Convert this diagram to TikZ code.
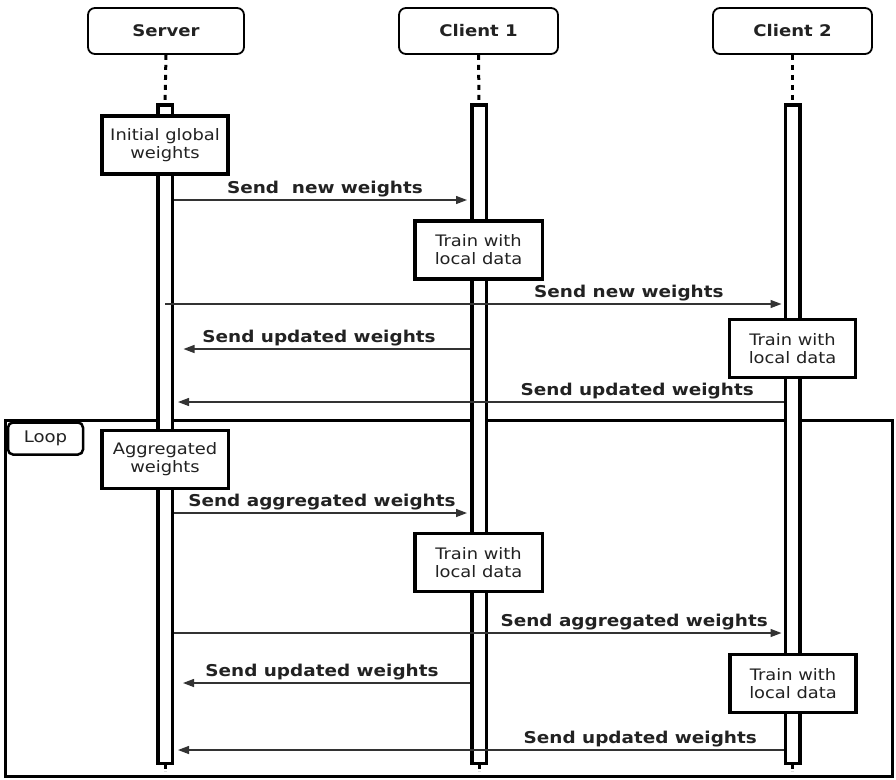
\documentclass[tikz,border=0pt]{standalone}
\usepackage{fontspec}
\setmainfont{DejaVu Sans}
\usepackage{graphicx}
\usetikzlibrary{arrows.meta}
\definecolor{ink}{HTML}{222222}
\definecolor{wire}{HTML}{333333}
% slightly widened lettering
\newcommand\sx[1]{\scalebox{1.13}[1]{#1}}

\begin{document}
\begin{tikzpicture}[x=1pt,y=-1pt,
  head/.style={draw=black, line width=1.8pt, rounded corners=7pt, fill=white,
    minimum height=46pt, inner sep=0pt, text=ink,
    font=\fontsize{16}{19}\selectfont\bfseries},
  life/.style={draw=black, line width=3pt, dash pattern=on 5pt off 5pt},
  bar/.style={draw=black, line width=3.5pt, fill=white, minimum width=14.5pt,
    minimum height=658.5pt, inner sep=0pt},
  act/.style={draw=black, line width=3.5pt, fill=white, minimum width=126pt,
    minimum height=58pt, inner sep=0pt, align=center, text=ink,
    font=\fontsize{15.8}{18}\selectfont},
  frame/.style={draw=black, line width=3pt, minimum width=887pt,
    minimum height=356.5pt, inner sep=0pt},
  tab/.style={draw=black, line width=2.5pt, rounded corners=5pt, fill=white,
    minimum width=75pt, minimum height=32pt, inner sep=0pt, text=ink,
    font=\fontsize{16}{19}\selectfont},
  msg/.style={draw=wire, line width=1.3pt, -{Triangle[length=11pt,width=8pt]}},
  lbl/.style={anchor=base, yshift=7pt, inner sep=0pt, text=ink,
    font=\fontsize{16.3}{19}\selectfont\bfseries},
]
\useasboundingbox (0,0) rectangle (896,779);

% loop frame and its tab
\node[frame] (loop) at (449,598.25) {};
\node[tab] (looptab) at (45.5,438.5) {\sx{Loop}};

% participants
\node[head, minimum width=156pt] (server) at (166,31) {\sx{Server}};
\node[head, minimum width=159pt] (client1) at (478.5,31) {\sx{Client 1}};
\node[head, minimum width=159pt] (client2) at (792.5,31) {\sx{Client 2}};

% activation bars
\node[bar] (sbar) at (165,434) {};
\node[bar] (cbar1) at (479,434) {};
\node[bar] (cbar2) at (792.5,434) {};

% lifelines
\draw[life] (server.south) -- (sbar.north);
\draw[life] (client1.south) -- (cbar1.north);
\draw[life] (client2.south) -- (cbar2.north);
\coordinate (send) at (165,771);
\coordinate (c1end) at (479,771);
\coordinate (c2end) at (792.5,771);
\draw[life, dash pattern=on 4pt off 2pt] (sbar.south) -- (send);
\draw[life, dash pattern=on 4pt off 2pt] (cbar1.south) -- (c1end);
\draw[life, dash pattern=on 4pt off 2pt] (cbar2.south) -- (c2end);

% processing steps
\node[act] (init) at (165,145) {\sx{Initial global}\\\sx{weights}};
\node[act, minimum width=127.5pt] (train1) at (478.5,250) {\sx{Train with}\\\sx{local data}};
\node[act] (train2) at (792.5,348.5) {\sx{Train with}\\\sx{local data}};
\node[act, minimum width=126.5pt] (agg) at (165,459.5) {\sx{Aggregated}\\\sx{weights}};
\node[act, minimum width=127.5pt] (train3) at (478.5,562.5) {\sx{Train with}\\\sx{local data}};
\node[act] (train4) at (793,683.5) {\sx{Train with}\\\sx{local data}};

% message levels
\coordinate (m1) at (0,200);
\coordinate (m2) at (0,304);
\coordinate (m3) at (0,349);
\coordinate (m4) at (0,402);
\coordinate (m5) at (0,513);
\coordinate (m6) at (0,633);
\coordinate (m7) at (0,683);
\coordinate (m8) at (0,750);

% messages
\draw[msg, shorten >=3pt] (sbar.east |- m1) --
  node[lbl, pos=0.51] {\sx{Send\ \ new weights}} (cbar1.west |- m1);
\draw[msg, shorten >=2pt] (sbar.center |- m2) --
  node[lbl, pos=0.75] {\sx{Send new weights}} (cbar2.west |- m2);
\draw[msg, shorten >=9.5pt] (cbar1.west |- m3) --
  node[lbl, pos=0.51] {\sx{Send updated weights}} (sbar.east |- m3);
\draw[msg, shorten >=4pt] (cbar2.west |- m4) --
  node[lbl, pos=0.24] {\sx{Send updated weights}} (sbar.east |- m4);
\draw[msg, shorten >=3pt] (sbar.east |- m5) --
  node[lbl, pos=0.50] {\sx{Send aggregated weights}} (cbar1.west |- m5);
\draw[msg, shorten >=2pt] (sbar.east |- m6) --
  node[lbl, pos=0.755] {\sx{Send aggregated weights}} (cbar2.west |- m6);
\draw[msg, shorten >=9pt] (cbar1.west |- m7) --
  node[lbl, pos=0.50] {\sx{Send updated weights}} (sbar.east |- m7);
\draw[msg, shorten >=4pt] (cbar2.west |- m8) --
  node[lbl, pos=0.235] {\sx{Send updated weights}} (sbar.east |- m8);
\end{tikzpicture}
\end{document}
